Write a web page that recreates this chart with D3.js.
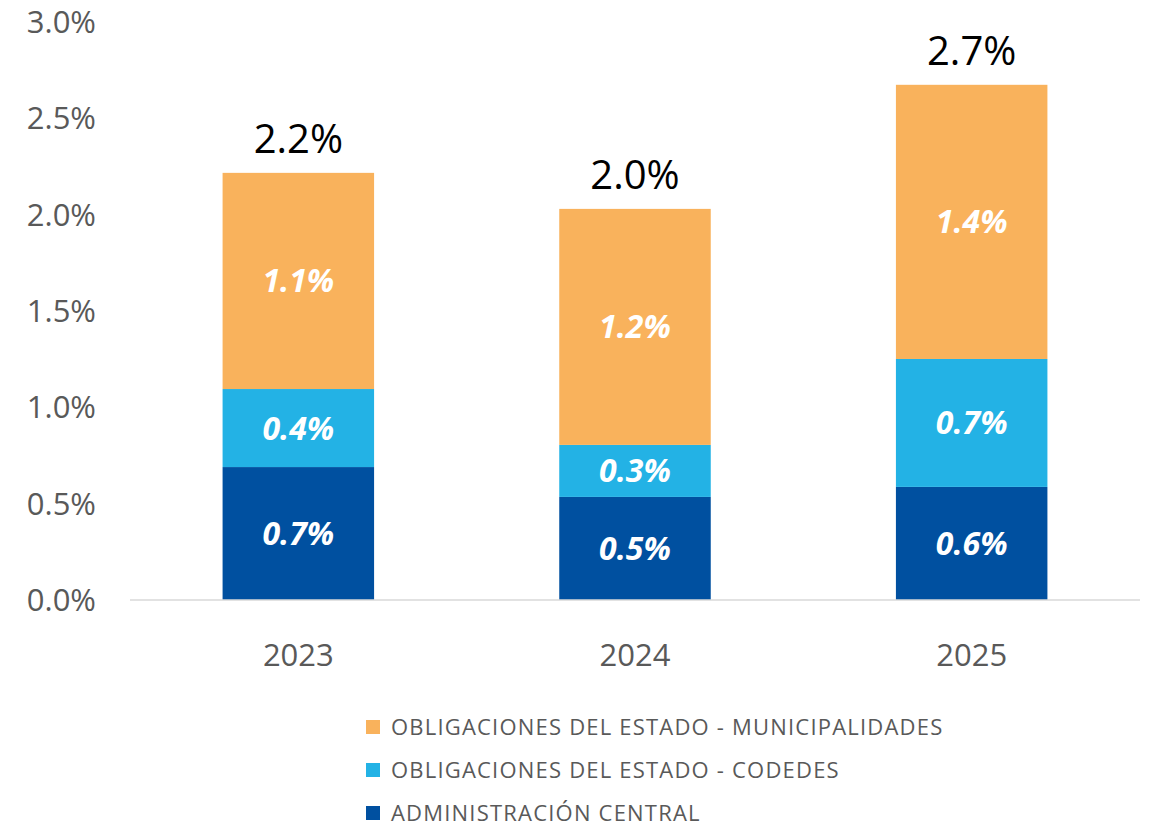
<html>
<head>
<meta charset="utf-8">
<title>Stacked bars</title>
<style>
  body { margin: 0; background: #fff; }
  svg { display: block; font-family: "Open Sans", "Liberation Sans", sans-serif; }
</style>
</head>
<body>
<svg id="viz" width="1150" height="827"></svg>
<script src="https://cdn.jsdelivr.net/npm/d3@7"></script>
<script>
// data
var years = ["2023", "2024", "2025"];
var admin = [0.69, 0.535, 0.587];
var codedes = [0.405, 0.27, 0.664];
var muni = [1.122, 1.225, 1.423];
var adminLabels = ["0.7%", "0.5%", "0.6%"];
var codedesLabels = ["0.4%", "0.3%", "0.7%"];
var muniLabels = ["1.1%", "1.2%", "1.4%"];
var totalLabels = ["2.2%", "2.0%", "2.7%"];
var yTicks = [0, 0.5, 1.0, 1.5, 2.0, 2.5, 3.0];
var seriesNames = ["OBLIGACIONES DEL ESTADO - MUNICIPALIDADES", "OBLIGACIONES DEL ESTADO - CODEDES", "ADMINISTRACIÓN CENTRAL"];

var colors = { admin: "#0050a0", codedes: "#23b2e5", muni: "#f9b25c" };

var svg = d3.select("#viz");

var x = d3.scaleBand().domain(years).range([130, 1140]).paddingInner(0.55).paddingOuter(0.275);
var y = d3.scaleLinear().domain([0, 3]).range([600, 22]);

// y tick labels
svg.append("g").selectAll("text")
    .data(yTicks)
    .enter().append("text")
    .attr("x", 96)
    .attr("y", function(d) { return y(d); })
    .attr("dy", "0.36em")
    .attr("text-anchor", "end")
    .attr("fill", "#595959")
    .style("font-size", "31px")
    .text(function(d) { return d.toFixed(1) + "%"; });

// stacked rows
var rows = years.map(function(yr, i) {
    return { year: yr, admin: admin[i], codedes: codedes[i], muni: muni[i], i: i };
});
var stack = d3.stack().keys(["admin", "codedes", "muni"])(rows);
var labelSets = { admin: adminLabels, codedes: codedesLabels, muni: muniLabels };

var layer = svg.append("g").selectAll("g")
    .data(stack)
    .enter().append("g")
    .attr("fill", function(d) { return colors[d.key]; });

layer.selectAll("rect")
    .data(function(d) { return d; })
    .enter().append("rect")
    .attr("x", function(d) { return x(d.data.year); })
    .attr("width", x.bandwidth())
    .attr("y", function(d) { return y(d[1]); })
    .attr("height", function(d) { return y(d[0]) - y(d[1]); });

// segment labels
stack.forEach(function(s) {
    svg.append("g").selectAll("text")
        .data(s)
        .enter().append("text")
        .attr("x", function(d) { return x(d.data.year) + x.bandwidth() / 2; })
        .attr("y", function(d) { return (y(d[0]) + y(d[1])) / 2; })
        .attr("dy", "0.36em")
        .attr("text-anchor", "middle")
        .attr("fill", "#fff")
        .style("font-size", "32px")
        .style("font-weight", "bold")
        .style("font-style", "italic")
        .text(function(d) { return labelSets[s.key][d.data.i]; });
});

// totals
var topLayer = stack[stack.length - 1];
svg.append("g").selectAll("text")
    .data(topLayer)
    .enter().append("text")
    .attr("x", function(d) { return x(d.data.year) + x.bandwidth() / 2; })
    .attr("y", function(d) { return y(d[1]) - 20; })
    .attr("text-anchor", "middle")
    .attr("fill", "#000")
    .style("font-size", "40px")
    .text(function(d) { return totalLabels[d.data.i]; });

// x axis line
svg.append("line")
    .attr("x1", 130).attr("x2", 1140)
    .attr("y1", y(0)).attr("y2", y(0))
    .attr("stroke", "#d9d9d9")
    .attr("stroke-width", 1.5);

// x labels
svg.append("g").selectAll("text")
    .data(years)
    .enter().append("text")
    .attr("x", function(d) { return x(d) + x.bandwidth() / 2; })
    .attr("y", 655)
    .attr("dy", "0.36em")
    .attr("text-anchor", "middle")
    .attr("fill", "#595959")
    .style("font-size", "31px")
    .text(function(d) { return d; });

// legend
var legColors = [colors.muni, colors.codedes, colors.admin];
var leg = svg.append("g").selectAll("g")
    .data(seriesNames)
    .enter().append("g")
    .attr("transform", function(d, i) { return "translate(366," + (727 + i * 43) + ")"; });

leg.append("rect")
    .attr("x", 0).attr("y", -7)
    .attr("width", 14).attr("height", 14)
    .attr("fill", function(d, i) { return legColors[i]; });

leg.append("text")
    .attr("x", 25)
    .attr("dy", "0.36em")
    .attr("fill", "#595959")
    .style("font-size", "22px")
    .style("letter-spacing", "1.2px")
    .text(function(d) { return d; });
</script>
</body>
</html>
